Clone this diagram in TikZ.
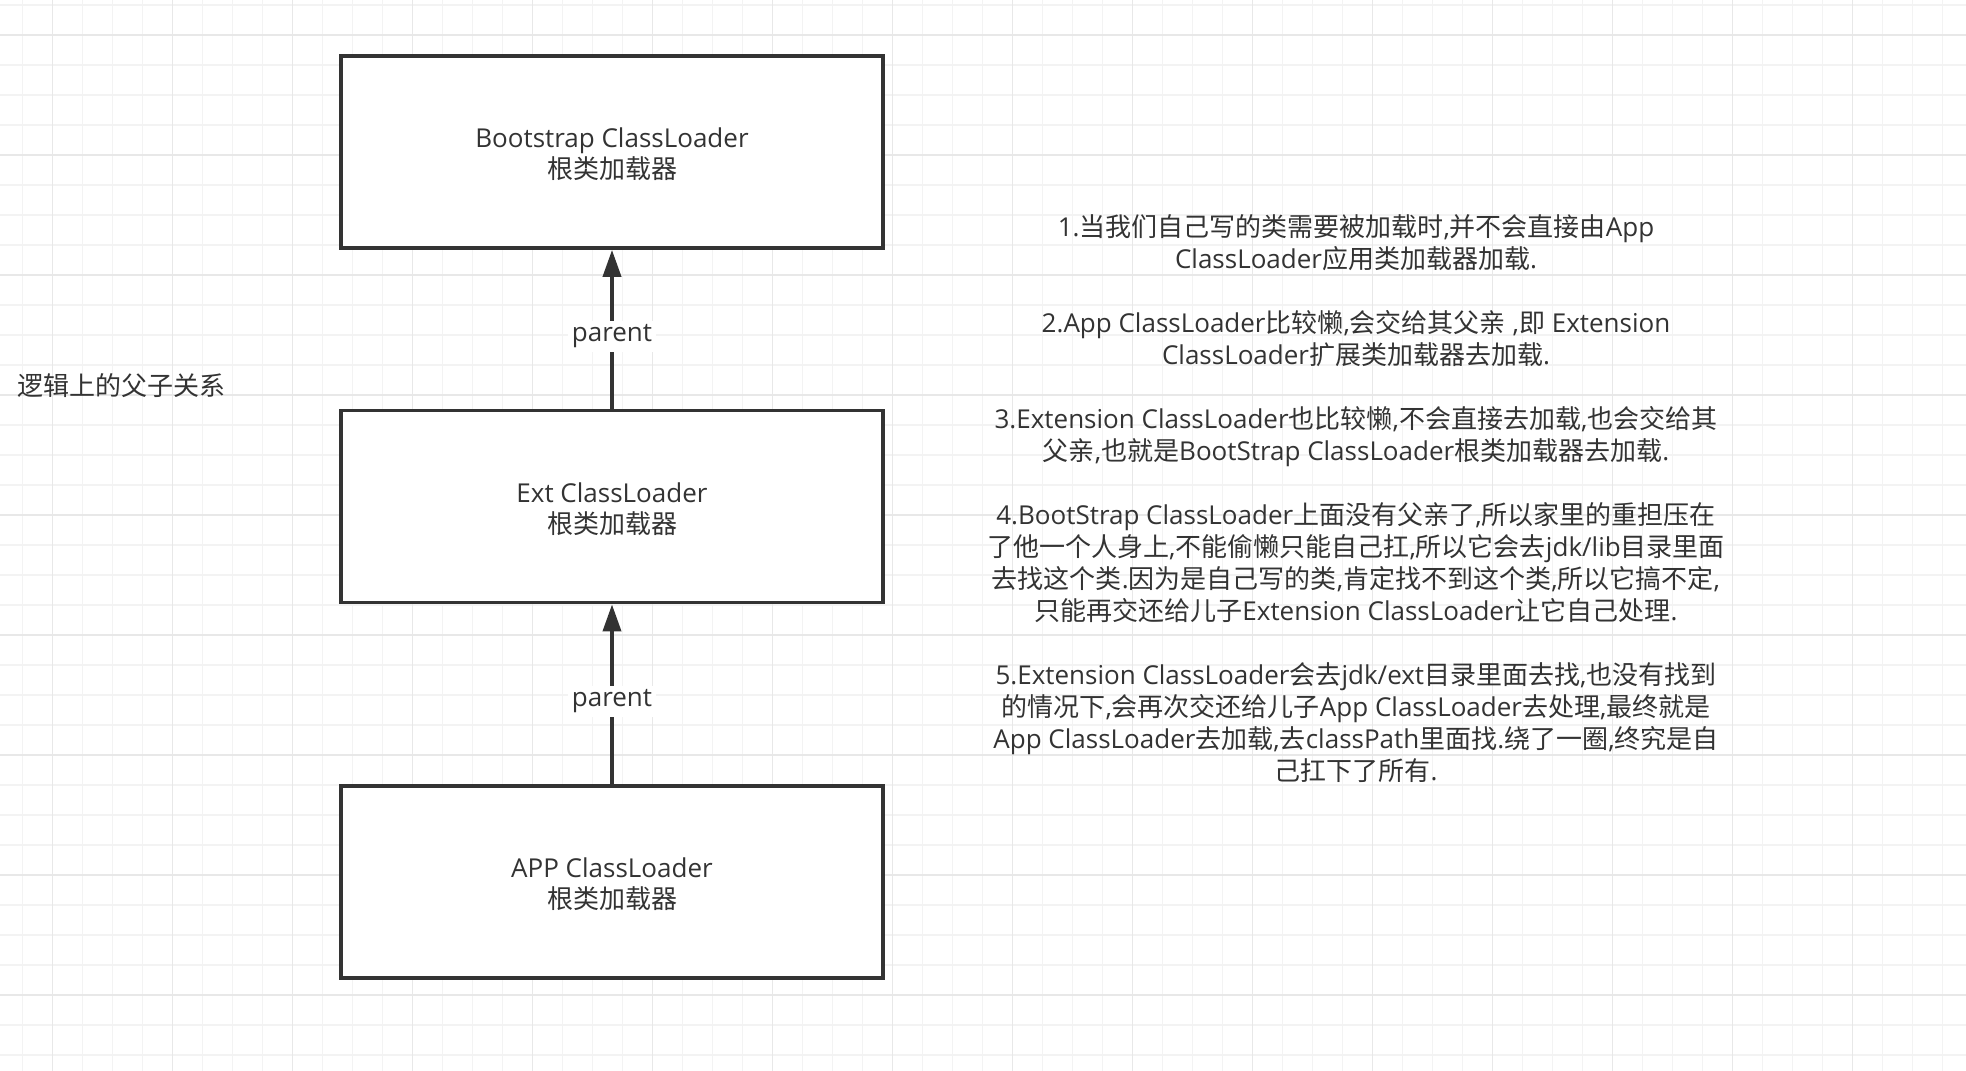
\documentclass[tikz,border=0pt]{standalone}
\usepackage{fontspec}
\usetikzlibrary{arrows.meta}
\setmainfont{Open Sans}
\newfontfamily\cjkfont{Noto Sans CJK SC}
\newXeTeXintercharclass\cjkclass
\newcount\cjkcnt
\cjkcnt="4E00
\loop
  \XeTeXcharclass\cjkcnt=\cjkclass
  \advance\cjkcnt by 1
\ifnum\cjkcnt<"A000 \repeat
\cjkcnt="3000
\loop
  \XeTeXcharclass\cjkcnt=\cjkclass
  \advance\cjkcnt by 1
\ifnum\cjkcnt<"3040 \repeat
\XeTeXinterchartoks 0 \cjkclass = {\cjkfont}
\XeTeXinterchartoks 4095 \cjkclass = {\cjkfont}
\XeTeXinterchartoks \cjkclass 0 = {\rmfamily}
\XeTeXinterchartoks \cjkclass 4095 = {\rmfamily}
\XeTeXinterchartokenstate=1
\definecolor{ink}{HTML}{333333}
\definecolor{gridminor}{HTML}{F3F3F3}
\definecolor{gridmajor}{HTML}{E8E8E8}
\newcommand{\boxtext}[2]{\raisebox{-5pt}[\height][\depth]{\begin{tabular}{@{}c@{}}#1\\#2\end{tabular}}}
\tikzset{
  loaderbox/.style={draw=ink, line width=3.8pt, fill=white, minimum width=542pt,
    minimum height=192pt, inner sep=0pt, align=center, text=ink,
    font=\fontsize{26}{31}\selectfont},
  parentarrow/.style={draw=ink, line width=3.8pt, -{Triangle[length=27pt,width=18pt]}},
  parentlabel/.style={fill=white, text=ink, inner sep=4pt, yshift=-7pt, font=\fontsize{26}{31}\selectfont},
  notetext/.style={text=ink, align=center, inner sep=0pt, font=\fontsize{26}{32}\selectfont}
}
\begin{document}
\begin{tikzpicture}[x=1pt,y=-1pt]
\useasboundingbox (0,0) rectangle (1966,1071);
\fill[white] (0,0) rectangle (1966,1071);
% grid
\foreach \i in {0,...,64} {\draw[gridminor, line width=1.5pt] (22.7+30*\i,0) -- (22.7+30*\i,1071);}
\foreach \i in {0,...,35} {\draw[gridminor, line width=1.5pt] (0,5+30*\i) -- (1966,5+30*\i);}
\foreach \i in {0,...,15} {\draw[gridmajor, line width=1.5pt] (52.7+120*\i,0) -- (52.7+120*\i,1071);}
\foreach \i in {0,...,8} {\draw[gridmajor, line width=1.5pt] (0,35+120*\i) -- (1966,35+120*\i);}
% boxes
\node[loaderbox] (boot) at (612,152) {\boxtext{Bootstrap ClassLoader}{根类加载器}};
\node[loaderbox] (ext) at (612,506.5) {\boxtext{Ext ClassLoader}{根类加载器}};
\node[loaderbox] (app) at (612,882) {\boxtext{APP ClassLoader}{根类加载器}};
% arrows
\draw[parentarrow] (ext.north) -- (boot.south) node[midway, parentlabel] (lab1) {parent};
\draw[parentarrow] (app.north) -- (ext.south) node[midway, parentlabel] (lab2) {parent};
% left label
\node[text=ink, anchor=west, inner sep=0pt, font=\fontsize{26}{31}\selectfont] (logic) at (17,386) {逻辑上的父子关系};
% notes
\node[notetext] (note) at (1356,499) {1.当我们自己写的类需要被加载时,并不会直接由App\\
ClassLoader应用类加载器加载.\\[32pt]
2.App ClassLoader比较懒,会交给其父亲 ,即 Extension\\
ClassLoader扩展类加载器去加载.\\[32pt]
3.Extension ClassLoader也比较懒,不会直接去加载,也会交给其\\
父亲,也就是BootStrap ClassLoader根类加载器去加载.\\[32pt]
4.BootStrap ClassLoader上面没有父亲了,所以家里的重担压在\\
了他一个人身上,不能偷懒只能自己扛,所以它会去jdk/lib目录里面\\
去找这个类.因为是自己写的类,肯定找不到这个类,所以它搞不定,\\
只能再交还给儿子Extension ClassLoader让它自己处理.\\[32pt]
5.Extension ClassLoader会去jdk/ext目录里面去找,也没有找到\\
的情况下,会再次交还给儿子App ClassLoader去处理,最终就是\\
App ClassLoader去加载,去classPath里面找.绕了一圈,终究是自\\
己扛下了所有.};
\end{tikzpicture}
\end{document}
